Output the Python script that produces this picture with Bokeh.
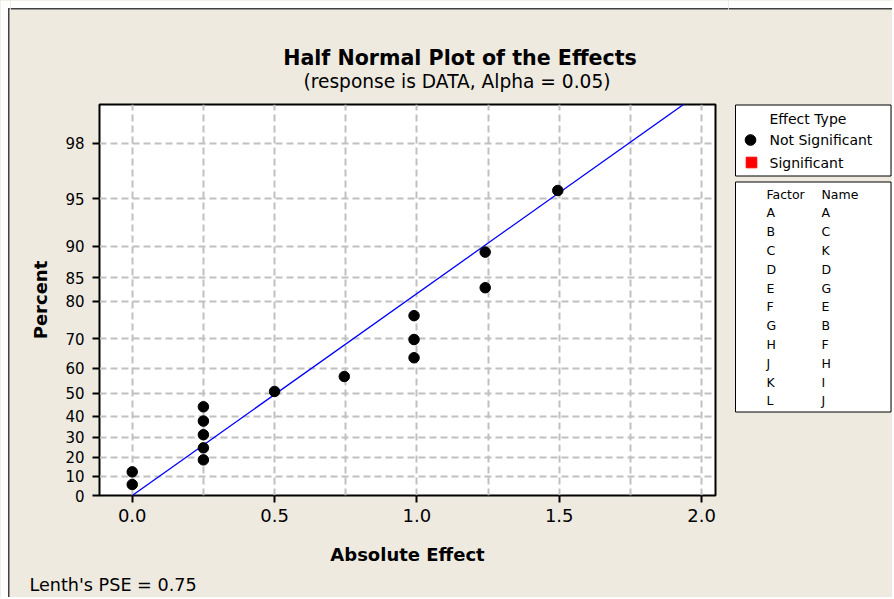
from statistics import NormalDist
from bokeh.plotting import figure
from bokeh.layouts import row, column
from bokeh.models import Range1d, FixedTicker, PrintfTickFormatter, ColumnDataSource
from bokeh.core.properties import value
from bokeh.embed import file_html
from bokeh.resources import INLINE

# ---------------- data ----------------
abs_effect = [0.0, 0.0, 0.25, 0.25, 0.25, 0.25, 0.25, 0.5, 0.745,
              0.99, 0.99, 0.99, 1.24, 1.24, 1.495]
percent = [5.8, 12.4, 18.6, 24.7, 31.2, 37.7, 44.2, 50.8, 56.8,
           63.7, 69.7, 76.5, 83.0, 89.2, 95.6]
y_tick_pct = [0, 10, 20, 30, 40, 50, 60, 70, 80, 85, 90, 95, 98]
x_ticks = [0.0, 0.5, 1.0, 1.5, 2.0]
x_grid = [0.0, 0.25, 0.5, 0.75, 1.0, 1.25, 1.5, 1.75, 2.0]
lenth_pse = 0.75
alpha = 0.05
line_effect = [0.0, 2.1]
effect_types = ["Not Significant", "Significant"]
factors = ["A", "B", "C", "D", "E", "F", "G", "H", "J", "K", "L"]
names = ["A", "C", "K", "D", "G", "E", "B", "F", "H", "I", "J"]

nd = NormalDist()
def hn(p):
    return nd.inv_cdf(0.5 + p / 200.0)

z_pts = [hn(v) for v in percent]
z_ticks = [hn(v) for v in y_tick_pct]
line_z = [e / lenth_pse for e in line_effect]

FONT = "DejaVu Sans"
BG = "#EEEAE0"
EDGE = "#404040"
TOTAL_H = 597


def strip(x0, x1, y0, y1):
    """A panel whose frame is its whole canvas, in page-pixel coordinates."""
    f = figure(width=int(x1 - x0), height=int(y1 - y0),
               x_range=Range1d(x0, x1), y_range=Range1d(y1, y0),
               output_backend="svg", toolbar_location=None,
               x_axis_type=None, y_axis_type=None, min_border=0)
    f.outline_line_color = None
    f.background_fill_color = BG
    f.border_fill_color = BG
    return f


def txt(f, x, y, s, size, align="left", baseline="middle", bold=False):
    f.text(x=[x], y=[y], text=[s], text_font=value(FONT),
           text_font_size=value(size), text_align=align,
           text_baseline=baseline, text_color="black",
           text_font_style="bold" if bold else "normal")


def top_edge(f, x0, x1):
    f.quad(left=[x0], right=[x1], top=[0], bottom=[7.5], fill_color="white", line_color=None)
    f.quad(left=[x0], right=[x1], top=[7.5], bottom=[9], fill_color=EDGE, line_color=None)


# ---------------- left edge band ----------------
band = strip(0, 10, 0, TOTAL_H)
band.quad(left=[0], right=[7.5], top=[0], bottom=[TOTAL_H], fill_color="white", line_color=None)
band.quad(left=[7.5], right=[9], top=[7.5], bottom=[TOTAL_H], fill_color=EDGE, line_color=None)
band.quad(left=[7.5], right=[10], top=[0], bottom=[7.5], fill_color="white", line_color=None)
band.quad(left=[9], right=[10], top=[7.5], bottom=[9], fill_color=EDGE, line_color=None)

# ---------------- title strip ----------------
top = strip(10, 728, 0, 100)
top_edge(top, 10, 728)
txt(top, 459.5, 57.7, "Half Normal Plot of the Effects", "20.6px", "center", "alphabetic", True)
txt(top, 456.5, 80.7, "(response is DATA, Alpha = %s)" % alpha, "18.6px", "center", "alphabetic")

# ---------------- main plot ----------------
p = figure(frame_width=616, frame_height=391, output_backend="svg",
           toolbar_location=None,
           x_range=Range1d(-0.115, 2.049), y_range=Range1d(0, 2.582),
           min_border_left=89, min_border_right=13,
           min_border_top=4, min_border_bottom=40)
p.background_fill_color = "white"
p.border_fill_color = BG
p.outline_line_color = "black"
p.outline_line_width = 2

p.xaxis.ticker = FixedTicker(ticks=x_ticks)
p.xaxis.formatter = PrintfTickFormatter(format="%.1f")
p.yaxis.ticker = FixedTicker(ticks=z_ticks)
p.yaxis.major_label_overrides = {z: str(v) for z, v in zip(z_ticks, y_tick_pct)}
for ax in (p.xaxis[0], p.yaxis[0]):
    ax.axis_line_color = None
    ax.major_tick_in = 0
    ax.major_tick_out = 7
    ax.major_tick_line_width = 2
    ax.major_tick_line_color = "black"
    ax.minor_tick_line_color = None
    ax.major_label_text_font = FONT
    ax.major_label_text_color = "black"
    ax.axis_label_text_font = FONT
    ax.axis_label_text_font_style = "bold"
    ax.axis_label_text_color = "black"
    ax.axis_label_text_font_size = "18px"
p.xaxis.major_label_text_font_size = "18px"
p.yaxis.major_label_text_font_size = "15px"
p.xaxis.major_label_standoff = 6
p.yaxis.major_label_standoff = 8
p.yaxis.axis_label = "Percent"
p.yaxis.axis_label_standoff = 11

p.xgrid.ticker = FixedTicker(ticks=x_grid)
p.ygrid.ticker = FixedTicker(ticks=z_ticks)
for g in (p.xgrid[0], p.ygrid[0]):
    g.grid_line_color = "#C0C0C0"
    g.grid_line_width = 2
    g.grid_line_dash = "7 4"

p.line(line_effect, line_z, line_color="#0000FF", line_width=1.3)
src = ColumnDataSource(dict(x=abs_effect, y=z_pts))
p.scatter("x", "y", source=src, size=10.5, fill_color="black",
          line_color="black", marker="circle")

# ---------------- bottom strip ----------------
bot = strip(10, 728, 535, TOTAL_H)
txt(bot, 407, 554, "Absolute Effect", "18px", "center", "alphabetic", True)
txt(bot, 29, 584, "Lenth's PSE = %s" % lenth_pse, "17.6px", "left", "alphabetic")

# ---------------- legend panel ----------------
leg = strip(728, 892, 0, TOTAL_H)
top_edge(leg, 728, 892)
leg.quad(left=[735], right=[890.5], top=[104.5], bottom=[175.5],
         fill_color="white", line_color="black", line_width=1)
txt(leg, 769, 118, "Effect Type", "14px")
leg.scatter(x=[750], y=[139.5], size=10.7, marker="circle",
            fill_color="black", line_color="black")
leg.scatter(x=[751], y=[162], size=10.6, marker="square",
            fill_color="#FF0000", line_color="#FF0000")
txt(leg, 769, 139.5, effect_types[0], "14px")
txt(leg, 769, 162, effect_types[1], "14px")

leg.quad(left=[735], right=[890.5], top=[181.5], bottom=[411.5],
         fill_color="white", line_color="black", line_width=1)
txt(leg, 766, 193.5, "Factor", "12.5px")
txt(leg, 821, 193.5, "Name", "12.5px")
for k, (fa, na) in enumerate(zip(factors, names)):
    yy = 212.3 + k * 18.8
    txt(leg, 766, yy, fa, "12.5px")
    txt(leg, 821, yy, na, "12.5px")

bg_style = {"background-color": BG}
middle = column(row(top, spacing=0, styles=bg_style),
                row(p, spacing=0, styles=bg_style),
                row(bot, spacing=0, styles=bg_style),
                spacing=0, styles=bg_style)
layout = row(band, middle, leg, spacing=0, styles=bg_style)
open("out.html", "w").write(file_html(layout, INLINE))
